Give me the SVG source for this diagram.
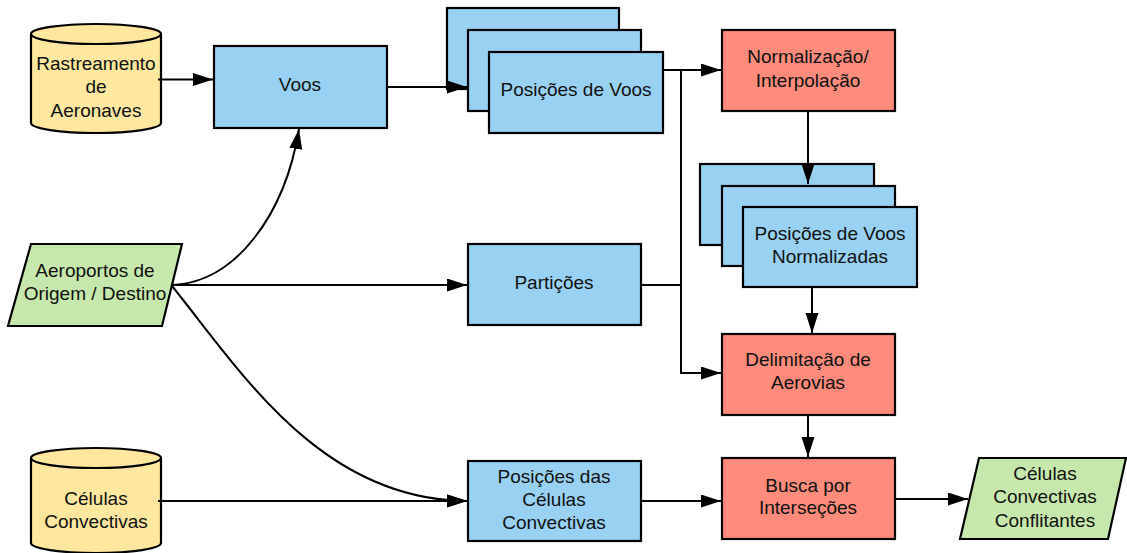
<svg xmlns="http://www.w3.org/2000/svg" width="1127" height="553" viewBox="0 0 1127 553">
<style>
.box{stroke:#000;stroke-width:2.2}
.blue{fill:#99D1F3}.red{fill:#FF8B7D}.yel{fill:#FFE7A0}.grn{fill:#C7E8AC}
text{font-family:"Liberation Sans",Arial,sans-serif;font-size:19px;fill:#111;text-anchor:middle}
.c{fill:none;stroke:#000;stroke-width:2}
</style>
<defs>
<marker id="ah" markerUnits="userSpaceOnUse" markerWidth="22" markerHeight="14" refX="20" refY="6.5" orient="auto">
<path d="M0,0 L20,6.5 L0,13 z" fill="#000"/>
</marker>
</defs>
<rect width="1127" height="553" fill="#fff"/>
<g id="rastreamento">
<path class="box yel" d="M31,34 A65,10 0 0 1 161,34 L161,123 A65,10 0 0 1 31,123 Z"/>
<path class="c" style="stroke-width:2.2" d="M31,34 A65,10 0 0 0 161,34"/>
<text x="96" y="70">Rastreamento</text>
<text x="96" y="93">de</text>
<text x="96" y="117">Aeronaves</text>
</g>
<g id="voos">
<rect class="box blue" x="214" y="46" width="173" height="82"/>
<text x="300" y="91">Voos</text>
</g>
<g id="posicoes-voos">
<rect class="box blue" x="447" y="8" width="172" height="81"/>
<rect class="box blue" x="468" y="30" width="173" height="81"/>
<rect class="box blue" x="489" y="52" width="174" height="81"/>
<text x="576" y="96">Posições de Voos</text>
</g>
<g id="normalizacao">
<rect class="box red" x="722" y="30" width="173" height="81"/>
<text x="808" y="63">Normalização/</text>
<text x="808" y="87">Interpolação</text>
</g>
<g id="posicoes-normalizadas">
<rect class="box blue" x="700" y="164" width="174" height="81"/>
<rect class="box blue" x="722" y="186" width="173" height="80"/>
<rect class="box blue" x="743" y="207" width="174" height="80"/>
<text x="830" y="240">Posições de Voos</text>
<text x="830" y="263">Normalizadas</text>
</g>
<g id="aeroportos">
<polygon class="box grn" points="31,244 182,244 162,326 8,326"/>
<text x="95" y="277">Aeroportos de</text>
<text x="95" y="300">Origem / Destino</text>
</g>
<g id="particoes">
<rect class="box blue" x="468" y="244" width="173" height="81"/>
<text x="554" y="289">Partições</text>
</g>
<g id="delimitacao">
<rect class="box red" x="722" y="334" width="173" height="81"/>
<text x="808" y="366">Delimitação de</text>
<text x="808" y="389">Aerovias</text>
</g>
<g id="celulas">
<path class="box yel" d="M31,458 A65,10 0 0 1 161,458 L161,543 A65,10 0 0 1 31,543 Z"/>
<path class="c" style="stroke-width:2.2" d="M31,458 A65,10 0 0 0 161,458"/>
<text x="96" y="505">Células</text>
<text x="96" y="528">Convectivas</text>
</g>
<g id="posicoes-celulas">
<rect class="box blue" x="468" y="461" width="173" height="80"/>
<text x="554" y="483">Posições das</text>
<text x="554" y="506">Células</text>
<text x="554" y="529">Convectivas</text>
</g>
<g id="busca">
<rect class="box red" x="722" y="458" width="173" height="81"/>
<text x="808" y="492">Busca por</text>
<text x="808" y="514">Interseções</text>
</g>
<g id="conflitantes">
<polygon class="box grn" points="979,458 1126,458 1108,539 960,539"/>
<text x="1045" y="480">Células</text>
<text x="1045" y="503">Convectivas</text>
<text x="1045" y="527">Conflitantes</text>
</g>
<g id="connectors">
<path class="c" d="M158,79.5 L213,79.5" marker-end="url(#ah)"/>
<path class="c" d="M387,87 L467,87" marker-end="url(#ah)"/>
<path class="c" d="M663,70 L721,70" marker-end="url(#ah)"/>
<path class="c" d="M681,70 L681,373 L721,373" marker-end="url(#ah)"/>
<path class="c" d="M641,285 L681,285"/>
<path class="c" d="M808,111 L808,184" marker-end="url(#ah)"/>
<path class="c" d="M812,287 L812,333" marker-end="url(#ah)"/>
<path class="c" d="M808,415 L808,457" marker-end="url(#ah)"/>
<path class="c" d="M172,285 L467,285" marker-end="url(#ah)"/>
<path class="c" d="M172,285 C235,283 285,215 299,129" marker-end="url(#ah)"/>
<path class="c" d="M172,286 C240,370 320,500 467,501" marker-end="url(#ah)"/>
<path class="c" d="M158,501 L467,501" marker-end="url(#ah)"/>
<path class="c" d="M641,501 L721,501" marker-end="url(#ah)"/>
<path class="c" d="M895,499 L968,499" marker-end="url(#ah)"/>
</g>
</svg>
